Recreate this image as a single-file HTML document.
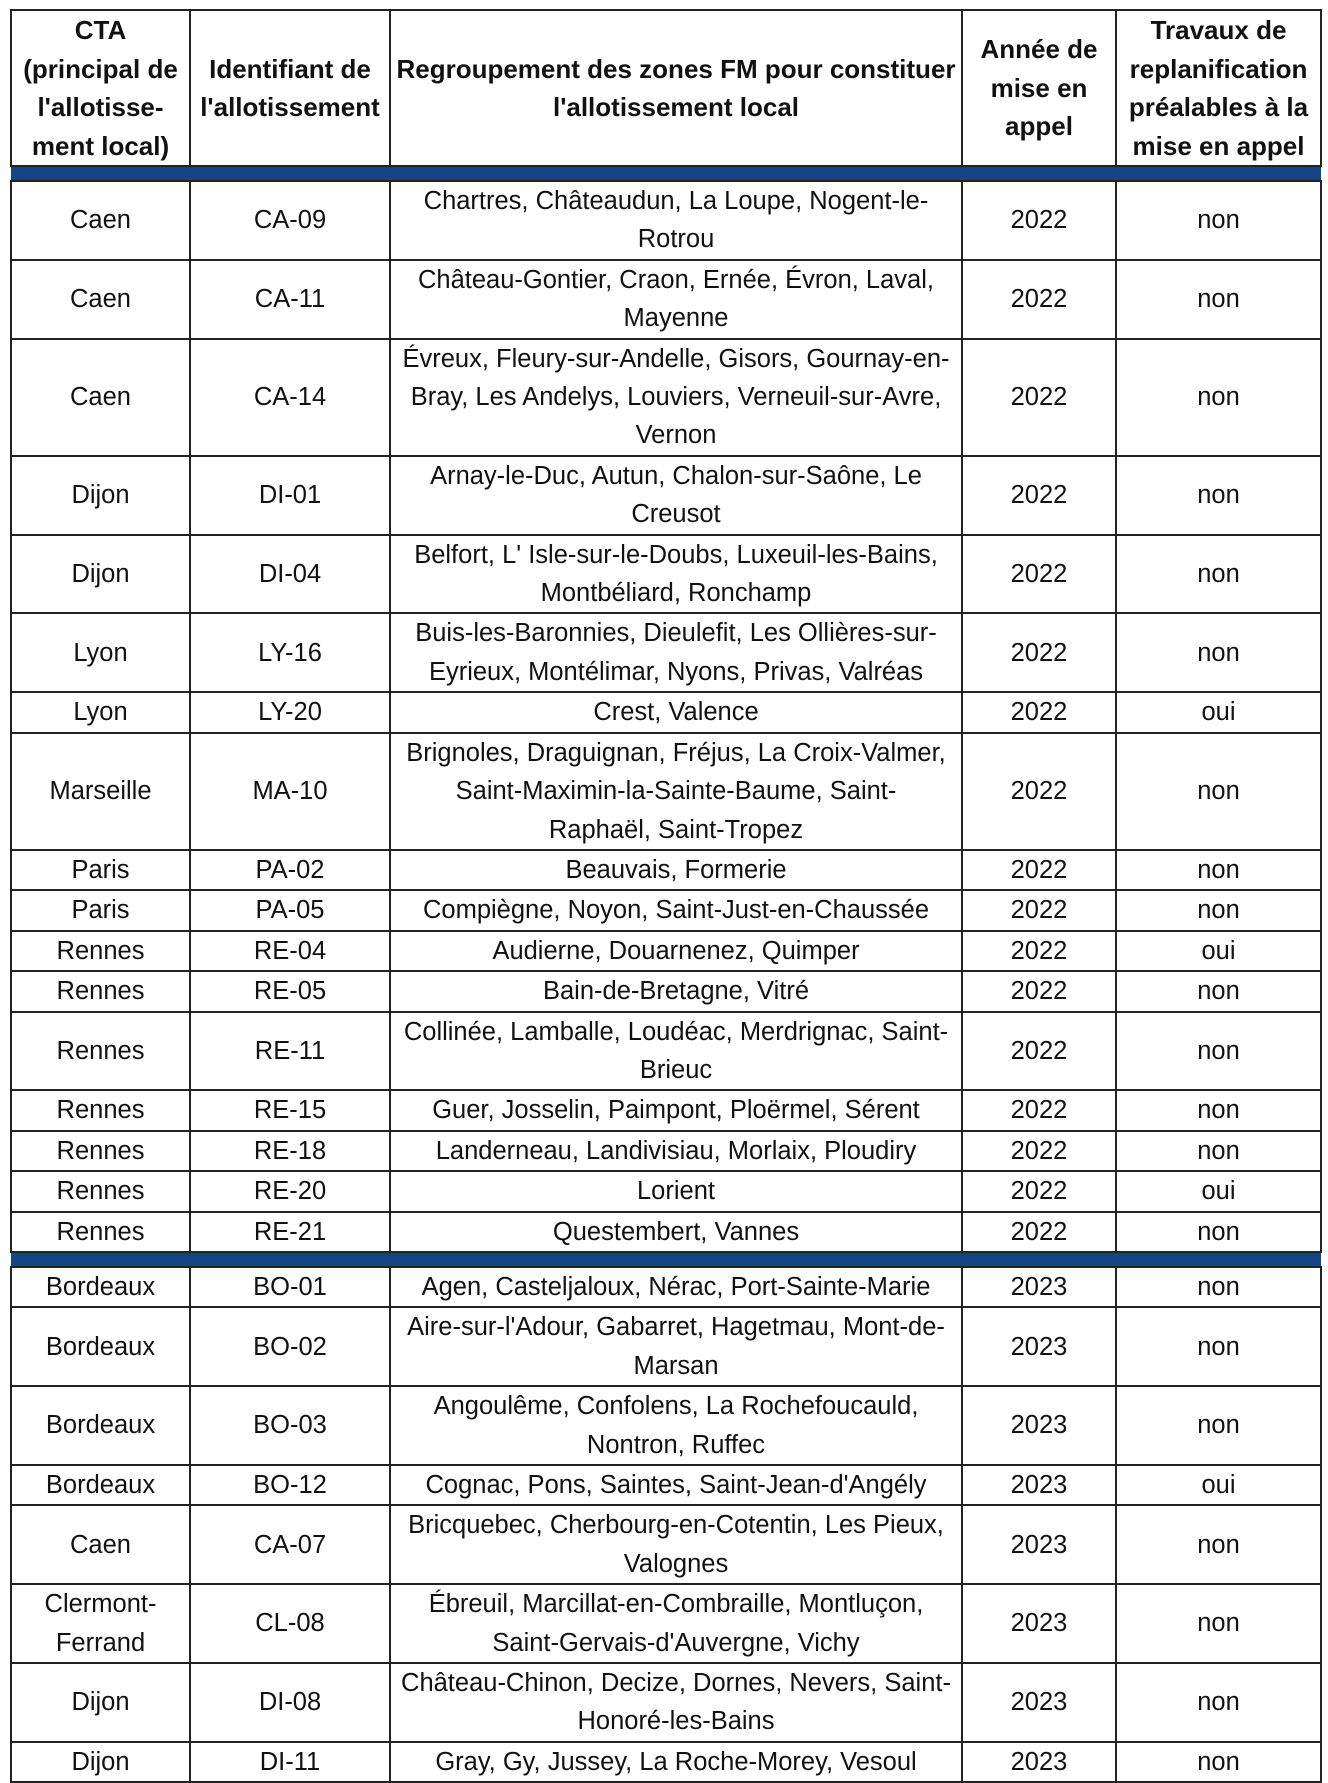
<!DOCTYPE html>
<html><head><meta charset="utf-8"><style>
html,body{margin:0;padding:0;background:#fff;width:1328px;height:1744px;overflow:hidden}
table{position:absolute;left:10px;top:9px;border-collapse:collapse;table-layout:fixed;font-family:"Liberation Sans",sans-serif;font-size:25.5px;color:#111}
td{border:2px solid #222;text-align:center;vertical-align:middle;padding:0;line-height:38.4px;white-space:nowrap;overflow:hidden}
th{border:2px solid #222;text-align:center;vertical-align:middle;padding:0;line-height:38.5px;font-weight:bold;font-size:26px;white-space:nowrap;overflow:hidden}
tr.b td{background:#134486;height:13px;line-height:13px;border-left:none;border-right:none}
tr.r1 td{height:36px}tr.r2 td{height:75px}tr.r3 td{height:113px}
</style></head><body>
<table>
<colgroup><col style="width:179px"><col style="width:200px"><col style="width:572px"><col style="width:154px"><col style="width:205px"></colgroup>
<tr style="height:154px"><th>CTA<br>(principal de<br>l'allotisse-<br>ment local)</th><th>Identifiant de<br>l'allotissement</th><th>Regroupement des zones FM pour constituer<br>l'allotissement local</th><th>Année de<br>mise en<br>appel</th><th>Travaux de<br>replanification<br>préalables à la<br>mise en appel</th></tr>
<tr class="b"><td colspan="5"></td></tr>
<tr class="r2"><td>Caen</td><td>CA-09</td><td>Chartres, Châteaudun, La Loupe, Nogent-le-<br>Rotrou</td><td>2022</td><td>non</td></tr>
<tr class="r2"><td>Caen</td><td>CA-11</td><td>Château-Gontier, Craon, Ernée, Évron, Laval,<br>Mayenne</td><td>2022</td><td>non</td></tr>
<tr class="r3"><td>Caen</td><td>CA-14</td><td>Évreux, Fleury-sur-Andelle, Gisors, Gournay-en-<br>Bray, Les Andelys, Louviers, Verneuil-sur-Avre,<br>Vernon</td><td>2022</td><td>non</td></tr>
<tr class="r2"><td>Dijon</td><td>DI-01</td><td>Arnay-le-Duc, Autun, Chalon-sur-Saône, Le<br>Creusot</td><td>2022</td><td>non</td></tr>
<tr class="r2"><td>Dijon</td><td>DI-04</td><td>Belfort, L' Isle-sur-le-Doubs, Luxeuil-les-Bains,<br>Montbéliard, Ronchamp</td><td>2022</td><td>non</td></tr>
<tr class="r2"><td>Lyon</td><td>LY-16</td><td>Buis-les-Baronnies, Dieulefit, Les Ollières-sur-<br>Eyrieux, Montélimar, Nyons, Privas, Valréas</td><td>2022</td><td>non</td></tr>
<tr class="r1"><td>Lyon</td><td>LY-20</td><td>Crest, Valence</td><td>2022</td><td>oui</td></tr>
<tr class="r3"><td>Marseille</td><td>MA-10</td><td>Brignoles, Draguignan, Fréjus, La Croix-Valmer,<br>Saint-Maximin-la-Sainte-Baume, Saint-<br>Raphaël, Saint-Tropez</td><td>2022</td><td>non</td></tr>
<tr class="r1"><td>Paris</td><td>PA-02</td><td>Beauvais, Formerie</td><td>2022</td><td>non</td></tr>
<tr class="r1"><td>Paris</td><td>PA-05</td><td>Compiègne, Noyon, Saint-Just-en-Chaussée</td><td>2022</td><td>non</td></tr>
<tr class="r1"><td>Rennes</td><td>RE-04</td><td>Audierne, Douarnenez, Quimper</td><td>2022</td><td>oui</td></tr>
<tr class="r1"><td>Rennes</td><td>RE-05</td><td>Bain-de-Bretagne, Vitré</td><td>2022</td><td>non</td></tr>
<tr class="r2"><td>Rennes</td><td>RE-11</td><td>Collinée, Lamballe, Loudéac, Merdrignac, Saint-<br>Brieuc</td><td>2022</td><td>non</td></tr>
<tr class="r1"><td>Rennes</td><td>RE-15</td><td>Guer, Josselin, Paimpont, Ploërmel, Sérent</td><td>2022</td><td>non</td></tr>
<tr class="r1"><td>Rennes</td><td>RE-18</td><td>Landerneau, Landivisiau, Morlaix, Ploudiry</td><td>2022</td><td>non</td></tr>
<tr class="r1"><td>Rennes</td><td>RE-20</td><td>Lorient</td><td>2022</td><td>oui</td></tr>
<tr class="r1"><td>Rennes</td><td>RE-21</td><td>Questembert, Vannes</td><td>2022</td><td>non</td></tr>
<tr class="b"><td colspan="5"></td></tr>
<tr class="r1"><td>Bordeaux</td><td>BO-01</td><td>Agen, Casteljaloux, Nérac, Port-Sainte-Marie</td><td>2023</td><td>non</td></tr>
<tr class="r2"><td>Bordeaux</td><td>BO-02</td><td>Aire-sur-l'Adour, Gabarret, Hagetmau, Mont-de-<br>Marsan</td><td>2023</td><td>non</td></tr>
<tr class="r2"><td>Bordeaux</td><td>BO-03</td><td>Angoulême, Confolens, La Rochefoucauld,<br>Nontron, Ruffec</td><td>2023</td><td>non</td></tr>
<tr class="r1"><td>Bordeaux</td><td>BO-12</td><td>Cognac, Pons, Saintes, Saint-Jean-d'Angély</td><td>2023</td><td>oui</td></tr>
<tr class="r2"><td>Caen</td><td>CA-07</td><td>Bricquebec, Cherbourg-en-Cotentin, Les Pieux,<br>Valognes</td><td>2023</td><td>non</td></tr>
<tr class="r2"><td>Clermont-<br>Ferrand</td><td>CL-08</td><td>Ébreuil, Marcillat-en-Combraille, Montluçon,<br>Saint-Gervais-d'Auvergne, Vichy</td><td>2023</td><td>non</td></tr>
<tr class="r2"><td>Dijon</td><td>DI-08</td><td>Château-Chinon, Decize, Dornes, Nevers, Saint-<br>Honoré-les-Bains</td><td>2023</td><td>non</td></tr>
<tr class="r1"><td>Dijon</td><td>DI-11</td><td>Gray, Gy, Jussey, La Roche-Morey, Vesoul</td><td>2023</td><td>non</td></tr>
</table>
</body></html>
